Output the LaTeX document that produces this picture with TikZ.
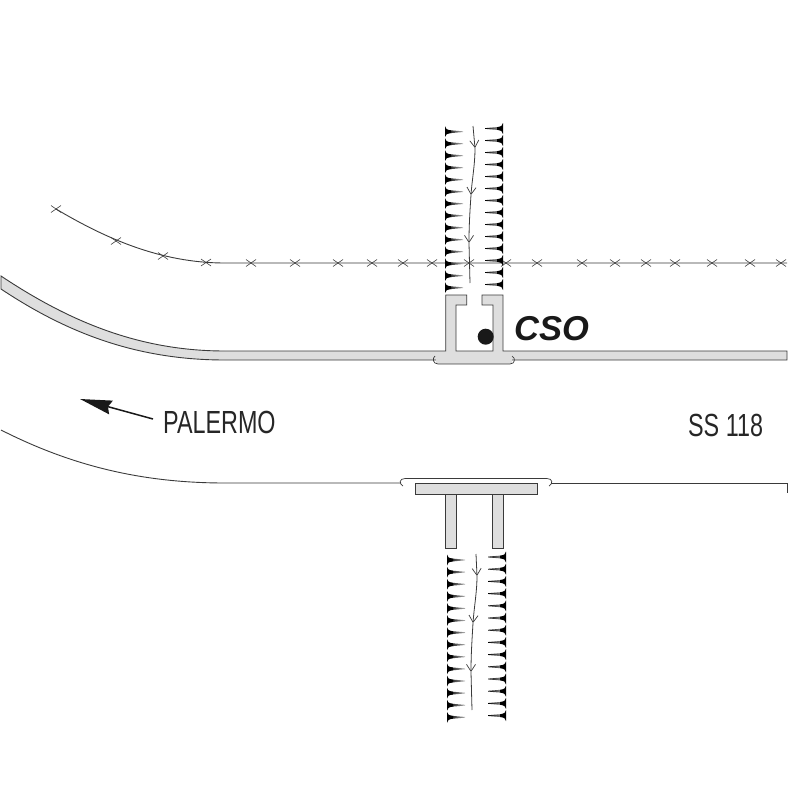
\documentclass[tikz,border=0pt]{standalone}
\usepackage{fontspec}
\setmainfont{Liberation Sans}
\usepackage{tikz}
\usetikzlibrary{arrows.meta}
\definecolor{wallgray}{HTML}{DEDEDE}
\definecolor{inkgray}{HTML}{3A3A3A}
\tikzset{
  wall/.style={draw=inkgray,fill=wallgray,line width=0.9pt},
  road/.style={draw=inkgray,line width=0.9pt},
  wire/.style={draw=inkgray,line width=0.9pt},
  flow/.style={draw=inkgray,line width=0.8pt,-{Straight Barb[length=7pt,width=9pt,line width=0.7pt]}},
  label/.style={font=\fontsize{32}{32}\selectfont,xscale=0.73,inner sep=0pt,text=black!85},
  spike/.pic={\shade[left color=black,middle color=black!90,right color=black!30] (1,-1.8) -- (18,-0.35) -- (18,0.35) -- (1,1.8) -- cycle;
    \fill[black] (0,-5.5) .. controls (0.6,-3) and (1.2,-2.1) .. (6,-1.3)
      -- (6,1.3) .. controls (1.2,2.1) and (0.6,3) .. (0,5.5) -- cycle;},
  barb/.pic={\draw[inkgray,line width=0.6pt] (-5,-3.5) -- (5,3.5) (-5,3.5) -- (5,-3.5);}
}
\begin{document}
\begin{tikzpicture}[x=1pt,y=-1pt]
  \useasboundingbox (0,0) rectangle (788,787);
  % upper fence
  \draw[wire] (56,209) .. controls (105,238) and (160,263) .. (225,263) -- (787,263);
  \foreach \px/\py in {56/209,116/241,163/256,206/262.5,251/263,295/263,338/263,372/263,403/263,
      432/263,469/263,506/263,537/263,582/263,615/263,646/263,675/263,712/263,750/263,781/263}
    \pic at (\px,\py) {barb};
  % walls
  \draw[wall] (1,276) .. controls (70,322) and (140,351) .. (225,351) -- (445.7,351)
    -- (445.7,295) -- (466.7,295) -- (466.7,305) -- (456,305) -- (456,351) -- (493,351)
    -- (493,305) -- (482,305) -- (482,295) -- (503,295) -- (503,351) -- (787,351)
    -- (787,360) -- (225,360) .. controls (140,360) and (70,335) .. (1,289) -- cycle;
  \fill[wallgray] (436,359) rectangle (512,364);
  \draw[road,line width=0.7pt] (435,356) .. controls (432,358) and (433,364) .. (438,364) -- (510,364)
    .. controls (515,364) and (516,358) .. (512,356);
  \fill[black!90] (485.7,336.7) circle (8);
  \node[font=\fontsize{34.5}{34.5}\selectfont\bfseries\itshape,inner sep=0pt,anchor=west,text=black!90] (cso) at (514,328.5) {CSO};
  % lower road
  \draw[road] (1,430) .. controls (70,465) and (140,483) .. (225,483) -- (401,483);
  \draw[road] (551,483) -- (787,483) -- (787,493);
  \draw[wall] (415,483) rectangle (537,494);
  \draw[wall] (445.7,494) rectangle (456.7,548);
  \draw[wall] (492.7,494) rectangle (503.7,548);
  \draw[road,line width=0.7pt] (403,486) .. controls (399,484) and (399,478.5) .. (405,478.5) -- (547,478.5)
    .. controls (553,478.5) and (553,484) .. (549,486);
  % direction
  \coordinate (arrowend) at (153,419);
  \coordinate (arrowtip) at (80,399);
  \draw[line width=1.5pt,black!90,-{Stealth[length=32pt,width=14pt,inset=3pt]}] (arrowend) -- (arrowtip);
  \node[label,anchor=west] (palermo) at (163,422) {PALERMO};
  \node[label,anchor=west] (ss) at (688,425) {SS 118};
  % upper track
  \foreach \py in {0,...,13} {
    \pic at (445,131.7+12*\py) {spike};
    \pic[xscale=-1] at (503,128.5+12*\py) {spike};
  }
  \coordinate (ua) at (473,126);
  \coordinate (ub) at (475,148);
  \coordinate (uc) at (471,195);
  \coordinate (ud) at (469,243);
  \coordinate (ue) at (470,283);
  \draw[flow] (ua) -- (ub);
  \draw[flow] (ub) .. controls (475,165) and (472,180) .. (uc);
  \draw[flow] (uc) .. controls (470,210) and (469,225) .. (ud);
  \draw[flow,-] (ud) -- (ue);
  % lower track
  \foreach \py in {0,...,13} {
    \pic at (447,560+12.1*\py) {spike};
    \pic[xscale=-1] at (506,557+12.2*\py) {spike};
  }
  \coordinate (la) at (476,554);
  \coordinate (lb) at (477,576);
  \coordinate (lc) at (473,623);
  \coordinate (ld) at (471,672);
  \coordinate (le) at (472,710);
  \draw[flow] (la) -- (lb);
  \draw[flow] (lb) .. controls (477,592) and (474,608) .. (lc);
  \draw[flow] (lc) .. controls (472,640) and (471,655) .. (ld);
  \draw[flow,-] (ld) -- (le);
\end{tikzpicture}
\end{document}
